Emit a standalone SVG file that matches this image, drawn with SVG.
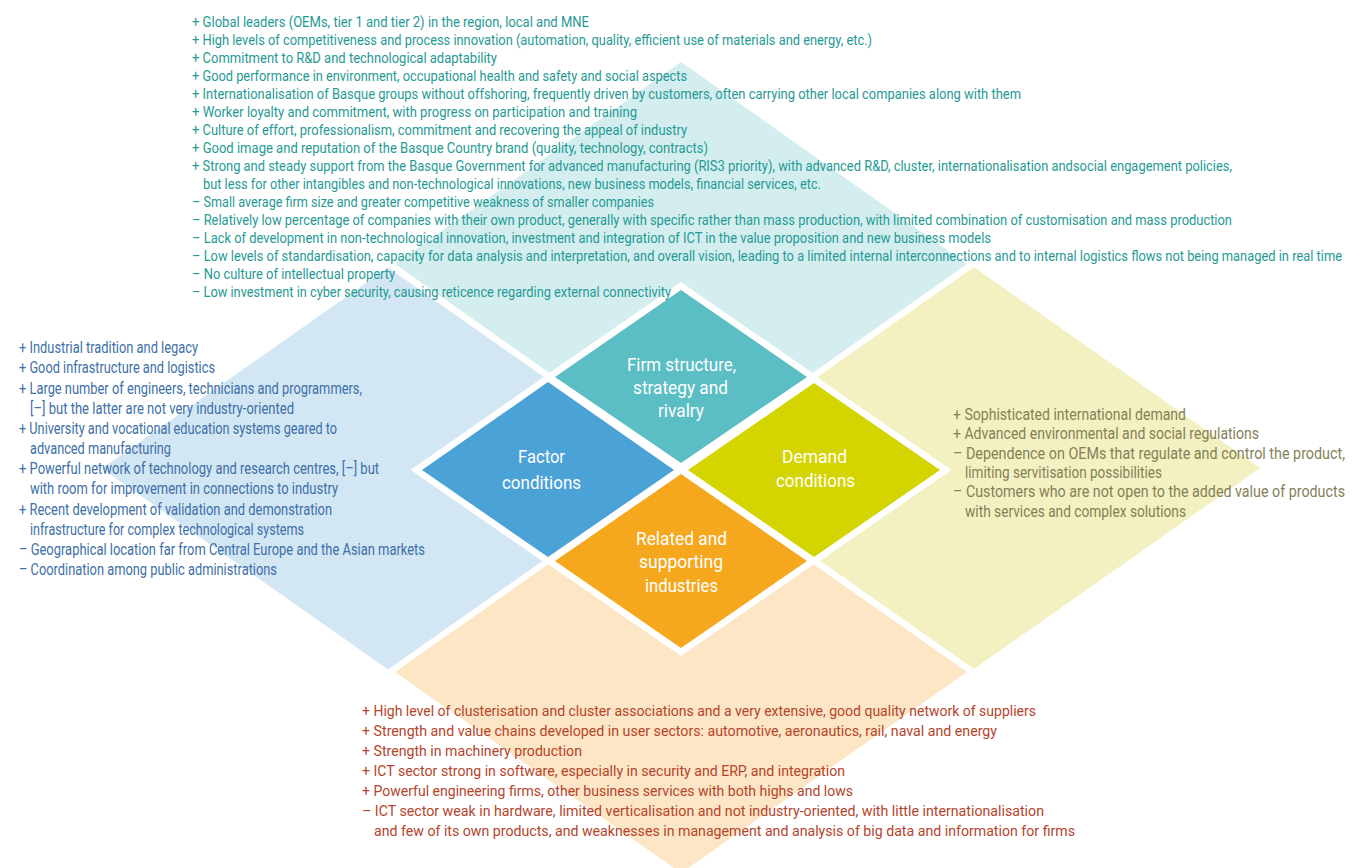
<svg xmlns="http://www.w3.org/2000/svg" width="1357" height="868" viewBox="0 0 1357 868">
<style>
.t{font-family:"Liberation Sans Narrow","Roboto","Liberation Sans",sans-serif;font-size:15.5px}
.tl{font-family:"Liberation Sans Narrow","Roboto","Liberation Sans",sans-serif;font-size:16px}
.teal{fill:#1f9a95}
.blue{fill:#3d6fa8}
.olive{fill:#857f58}
.brown{fill:#b5442b}
.lab{font-family:"Liberation Sans Narrow","Roboto","Liberation Sans",sans-serif;font-size:18.5px;fill:#ffffff}
.small{stroke:#ffffff;stroke-width:13;stroke-linejoin:miter;paint-order:stroke}
</style>
<rect x="0" y="0" width="1357" height="868" fill="#ffffff"/>

<g id="panel-firm">
<polygon points="681,62 967,264 681,466 395,264" fill="#d4eeef"/>
</g>
<g id="panel-factor">
<polygon points="388,267.5 674,468.5 388,669.5 102,468.5" fill="#d2e6f4"/>
</g>
<g id="panel-demand">
<polygon points="974,267 1260,468 974,669 688,468" fill="#f3f1c1"/>
</g>
<g id="panel-related">
<polygon points="681,471 967,672 681,873 395,672" fill="#fde6c5"/>
</g>

<g id="node-firm">
<polygon class="small" points="681,290 807,377 681,463 555,377" fill="#5bbec4"/>
<text class="lab" x="627" y="370.7" textLength="109" lengthAdjust="spacingAndGlyphs">Firm structure,</text>
<text class="lab" x="633" y="394.3" textLength="95" lengthAdjust="spacingAndGlyphs">strategy and</text>
<text class="lab" x="658" y="417.3" textLength="46" lengthAdjust="spacingAndGlyphs">rivalry</text>
</g>
<g id="node-factor">
<polygon class="small" points="548,382 674,470 548,557 422,470" fill="#4ba2d6"/>
<text class="lab" x="518" y="462.7" textLength="47" lengthAdjust="spacingAndGlyphs">Factor</text>
<text class="lab" x="502" y="489" textLength="79" lengthAdjust="spacingAndGlyphs">conditions</text>
</g>
<g id="node-demand">
<polygon class="small" points="814,383 940,470 814,557 688,470" fill="#d4d400"/>
<text class="lab" x="782" y="463.3" textLength="65" lengthAdjust="spacingAndGlyphs">Demand</text>
<text class="lab" x="776" y="487" textLength="79" lengthAdjust="spacingAndGlyphs">conditions</text>
</g>
<g id="node-related">
<polygon class="small" points="681,474 807,561 681,648 555,561" fill="#f5a81e"/>
<text class="lab" x="636" y="545" textLength="91" lengthAdjust="spacingAndGlyphs">Related and</text>
<text class="lab" x="639" y="568.3" textLength="84" lengthAdjust="spacingAndGlyphs">supporting</text>
<text class="lab" x="645" y="591.7" textLength="73" lengthAdjust="spacingAndGlyphs">industries</text>
</g>

<g id="connectors"></g>

<g id="list-firm" class="t teal">
<text x="192" y="27.3" textLength="397" lengthAdjust="spacingAndGlyphs">+ Global leaders (OEMs, tier 1 and tier 2) in the region, local and MNE</text>
<text x="192" y="45.3" textLength="680" lengthAdjust="spacingAndGlyphs">+ High levels of competitiveness and process innovation (automation, quality, efficient use of materials and energy, etc.)</text>
<text x="192" y="63.3" textLength="305" lengthAdjust="spacingAndGlyphs">+ Commitment to R&amp;D and technological adaptability</text>
<text x="192" y="81.3" textLength="495" lengthAdjust="spacingAndGlyphs">+ Good performance in environment, occupational health and safety and social aspects</text>
<text x="192" y="99.3" textLength="829" lengthAdjust="spacingAndGlyphs">+ Internationalisation of Basque groups without offshoring, frequently driven by customers, often carrying other local companies along with them</text>
<text x="192" y="117.3" textLength="445" lengthAdjust="spacingAndGlyphs">+ Worker loyalty and commitment, with progress on participation and training</text>
<text x="192" y="135.3" textLength="495" lengthAdjust="spacingAndGlyphs">+ Culture of effort, professionalism, commitment and recovering the appeal of industry</text>
<text x="192" y="153.3" textLength="516" lengthAdjust="spacingAndGlyphs">+ Good image and reputation of the Basque Country brand (quality, technology, contracts)</text>
<text x="192" y="171.3" textLength="1040" lengthAdjust="spacingAndGlyphs">+ Strong and steady support from the Basque Government for advanced manufacturing (RIS3 priority), with advanced R&amp;D, cluster, internationalisation andsocial engagement policies,</text>
<text x="203" y="189.3" textLength="618" lengthAdjust="spacingAndGlyphs">but less for other intangibles and non-technological innovations, new business models, financial services, etc.</text>
<text x="192" y="207.3" textLength="462" lengthAdjust="spacingAndGlyphs">– Small average firm size and greater competitive weakness of smaller companies</text>
<text x="192" y="225.3" textLength="1040" lengthAdjust="spacingAndGlyphs">– Relatively low percentage of companies with their own product, generally with specific rather than mass production, with limited combination of customisation and mass production</text>
<text x="192" y="243.3" textLength="799" lengthAdjust="spacingAndGlyphs">– Lack of development in non-technological innovation, investment and integration of ICT in the value proposition and new business models</text>
<text x="192" y="261.3" textLength="1150" lengthAdjust="spacingAndGlyphs">– Low levels of standardisation, capacity for data analysis and interpretation, and overall vision, leading to a limited internal interconnections and to internal logistics flows not being managed in real time</text>
<text x="192" y="279.3" textLength="203" lengthAdjust="spacingAndGlyphs">– No culture of intellectual property</text>
<text x="192" y="297.3" textLength="479" lengthAdjust="spacingAndGlyphs">– Low investment in cyber security, causing reticence regarding external connectivity</text>
</g>

<g id="list-factor" class="tl blue">
<text x="19" y="353.3" textLength="179" lengthAdjust="spacingAndGlyphs">+ Industrial tradition and legacy</text>
<text x="19" y="373.4" textLength="196" lengthAdjust="spacingAndGlyphs">+ Good infrastructure and logistics</text>
<text x="19" y="393.6" textLength="343" lengthAdjust="spacingAndGlyphs">+ Large number of engineers, technicians and programmers,</text>
<text x="30" y="413.8" textLength="264" lengthAdjust="spacingAndGlyphs">[–] but the latter are not very industry-oriented</text>
<text x="19" y="433.9" textLength="318" lengthAdjust="spacingAndGlyphs">+ University and vocational education systems geared to</text>
<text x="30" y="454.1" textLength="141" lengthAdjust="spacingAndGlyphs">advanced manufacturing</text>
<text x="19" y="474.2" textLength="360" lengthAdjust="spacingAndGlyphs">+ Powerful network of technology and research centres, [–] but</text>
<text x="30" y="494.4" textLength="308" lengthAdjust="spacingAndGlyphs">with room for improvement in connections to industry</text>
<text x="19" y="514.5" textLength="313" lengthAdjust="spacingAndGlyphs">+ Recent development of validation and demonstration</text>
<text x="30" y="534.7" textLength="274" lengthAdjust="spacingAndGlyphs">infrastructure for complex technological systems</text>
<text x="19" y="554.8" textLength="406" lengthAdjust="spacingAndGlyphs">– Geographical location far from Central Europe and the Asian markets</text>
<text x="19" y="575" textLength="258" lengthAdjust="spacingAndGlyphs">– Coordination among public administrations</text>
</g>

<g id="list-demand" class="tl olive">
<text x="953" y="419.8" textLength="233" lengthAdjust="spacingAndGlyphs">+ Sophisticated international demand</text>
<text x="953" y="439.2" textLength="306" lengthAdjust="spacingAndGlyphs">+ Advanced environmental and social regulations</text>
<text x="953" y="458.6" textLength="392" lengthAdjust="spacingAndGlyphs">– Dependence on OEMs that regulate and control the product,</text>
<text x="965" y="478" textLength="197" lengthAdjust="spacingAndGlyphs">limiting servitisation possibilities</text>
<text x="953" y="497.4" textLength="392" lengthAdjust="spacingAndGlyphs">– Customers who are not open to the added value of products</text>
<text x="965" y="516.8" textLength="221" lengthAdjust="spacingAndGlyphs">with services and complex solutions</text>
</g>

<g id="list-related" class="t brown">
<text x="362" y="715.8" textLength="674" lengthAdjust="spacingAndGlyphs">+ High level of clusterisation and cluster associations and a very extensive, good quality network of suppliers</text>
<text x="362" y="735.9" textLength="635" lengthAdjust="spacingAndGlyphs">+ Strength and value chains developed in user sectors: automotive, aeronautics, rail, naval and energy</text>
<text x="362" y="756" textLength="220" lengthAdjust="spacingAndGlyphs">+ Strength in machinery production</text>
<text x="362" y="776.1" textLength="483" lengthAdjust="spacingAndGlyphs">+ ICT sector strong in software, especially in security and ERP, and integration</text>
<text x="362" y="796.2" textLength="491" lengthAdjust="spacingAndGlyphs">+ Powerful engineering firms, other business services with both highs and lows</text>
<text x="362" y="816.3" textLength="682" lengthAdjust="spacingAndGlyphs">– ICT sector weak in hardware, limited verticalisation and not industry-oriented, with little internationalisation</text>
<text x="374" y="836.4" textLength="701" lengthAdjust="spacingAndGlyphs">and few of its own products, and weaknesses in management and analysis of big data and information for firms</text>
</g>
</svg>
